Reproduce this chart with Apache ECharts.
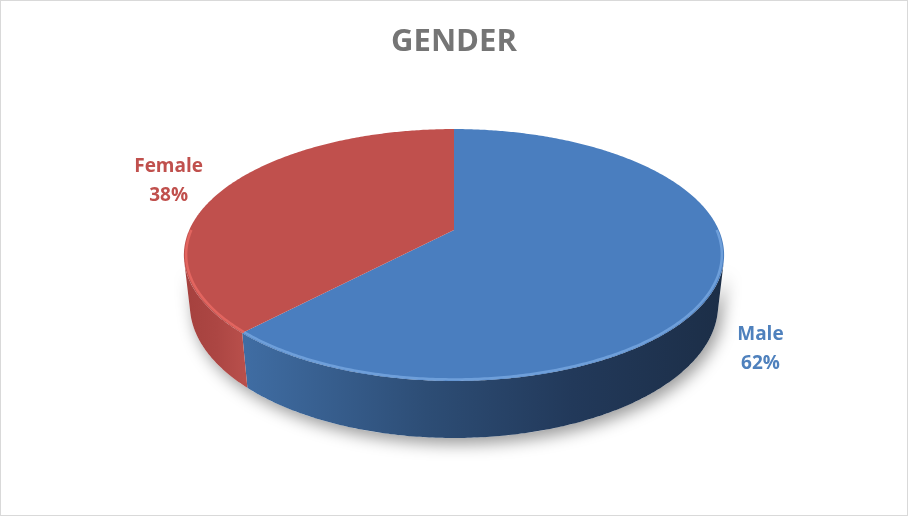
<!DOCTYPE html>
<html>
<head>
<meta charset="utf-8">
<script src="https://cdn.jsdelivr.net/npm/echarts@6/dist/echarts.min.js"></script>
<style>
html,body{margin:0;padding:0;background:#fff;}
#c{width:908px;height:516px;box-sizing:border-box;border:1px solid #d9d9d9;}
</style>
</head>
<body>
<div id="c"></div>
<script>
// ---- data ----
const titleText = 'GENDER';
const categories = ['Male', 'Female'];
const values = [62, 38];

// ---- styles / layout ----
const topColors = ['#4A7EBF', '#C0504D'];
const rimColors = ['rgba(140,185,240,0.55)', 'rgba(232,104,99,0.85)'];
const labelColors = ['#4F81BD', '#C0504D'];
const wallStops = [
  [[0, '#4774AC'], [0.12, '#3F6CA2'], [0.45, '#2D4D75'], [0.72, '#22395A'], [1, '#1C2E47']],
  [[0, '#A5413E'], [0.06, '#AC4643'], [0.11, '#B84F4B'], [1, '#B84F4B']]
];
const labelNudge = [[47, 19], [-56, -7]];

const chart = echarts.init(document.getElementById('c'), null, {renderer: 'canvas'});

// perspective view of a tilted disk
const CX = 453, CY = 229;
const SIN = 0.457, COS = 0.889, DIST = 4.48, FOC = 1186, THICK = 0.2136;
function proj(X, Y, Z) {
  const w = Z * COS + Y * SIN;
  const v = -Z * SIN + Y * COS;
  const k = FOC / (DIST - w);
  return [CX + X * k, CY - v * k];
}
function rim(t, Y, r) {
  const R = r || 1;
  return proj(R * Math.sin(t), Y, -R * Math.cos(t));
}
function arc(a0, a1, Y, r) {
  const pts = [];
  const n = Math.max(2, Math.ceil((a1 - a0) / 0.01));
  for (let k = 0; k <= n; k++) pts.push(rim(a0 + (a1 - a0) * k / n, Y, r));
  return pts;
}
const faceA = Math.acos(-1 / (DIST * COS));
const faceB = Math.PI * 2 - faceA;

function renderItem(params, api) {
  const i = params.dataIndex;
  const total = values.reduce((s, v) => s + v, 0);
  let before = 0;
  for (let k = 0; k < i; k++) before += values[k];
  const v = api.value(0);
  const a0 = before / total * Math.PI * 2;
  const a1 = (before + v) / total * Math.PI * 2;
  const children = [];

  if (i === 0) {
    const s = arc(faceA, faceB, 0).concat(arc(faceA, faceB, -THICK).reverse());
    children.push({
      type: 'polygon', z2: 0, shape: {points: s},
      style: {fill: '#ffffff', shadowBlur: 16, shadowColor: 'rgba(0,0,0,0.4)', shadowOffsetX: 4, shadowOffsetY: 6}
    });
  }

  const w0 = Math.max(a0, faceA), w1 = Math.min(a1, faceB);
  if (w1 > w0) {
    const wpts = arc(w0, w1, 0).concat(arc(w0, w1, -THICK).reverse());
    children.push({
      type: 'polygon', z2: 1, shape: {points: wpts},
      style: {
        fill: {
          type: 'linear', x: 183, y: 0, x2: 723, y2: 0, global: true,
          colorStops: wallStops[i].map(s => ({offset: s[0], color: s[1]}))
        }
      }
    });
  }

  const tpts = [proj(0, 0, 0)].concat(arc(a0, a1, 0));
  children.push({
    type: 'polygon', z2: 2, shape: {points: tpts},
    style: {fill: topColors[i]}
  });
  const r0 = Math.max(a0, Math.PI * 0.5), r1 = Math.min(a1, Math.PI * 1.5);
  if (r1 > r0) {
    children.push({
      type: 'polyline', z2: 3, shape: {points: arc(r0, r1, 0, 0.992)},
      style: {stroke: rimColors[i], lineWidth: 2.5, fill: null}
    });
  }

  const mid = (a0 + a1) / 2;
  const near = Math.cos(mid) < 0;
  const anchor = rim(mid, near ? -THICK : 0);
  const pct = Math.round(v / total * 100) + '%';
  children.push({
    type: 'text', z2: 5, x: anchor[0] + labelNudge[i][0], y: anchor[1] + labelNudge[i][1],
    style: {
      text: categories[i] + '\n' + pct,
      fill: labelColors[i],
      font: 'bold 19px "Open Sans"',
      lineHeight: 29,
      align: 'center',
      verticalAlign: 'middle'
    }
  });

  return {type: 'group', children: children};
}

chart.setOption({
  animation: false,
  title: {
    text: titleText, left: 'center', top: 21,
    textStyle: {color: '#757575', fontSize: 31, fontWeight: 'bold', fontFamily: 'Open Sans'}
  },
  series: [{
    type: 'custom',
    coordinateSystem: 'none',
    renderItem: renderItem,
    data: values.map((v, i) => ({name: categories[i], value: [v]}))
  }]
});
</script>
</body>
</html>
